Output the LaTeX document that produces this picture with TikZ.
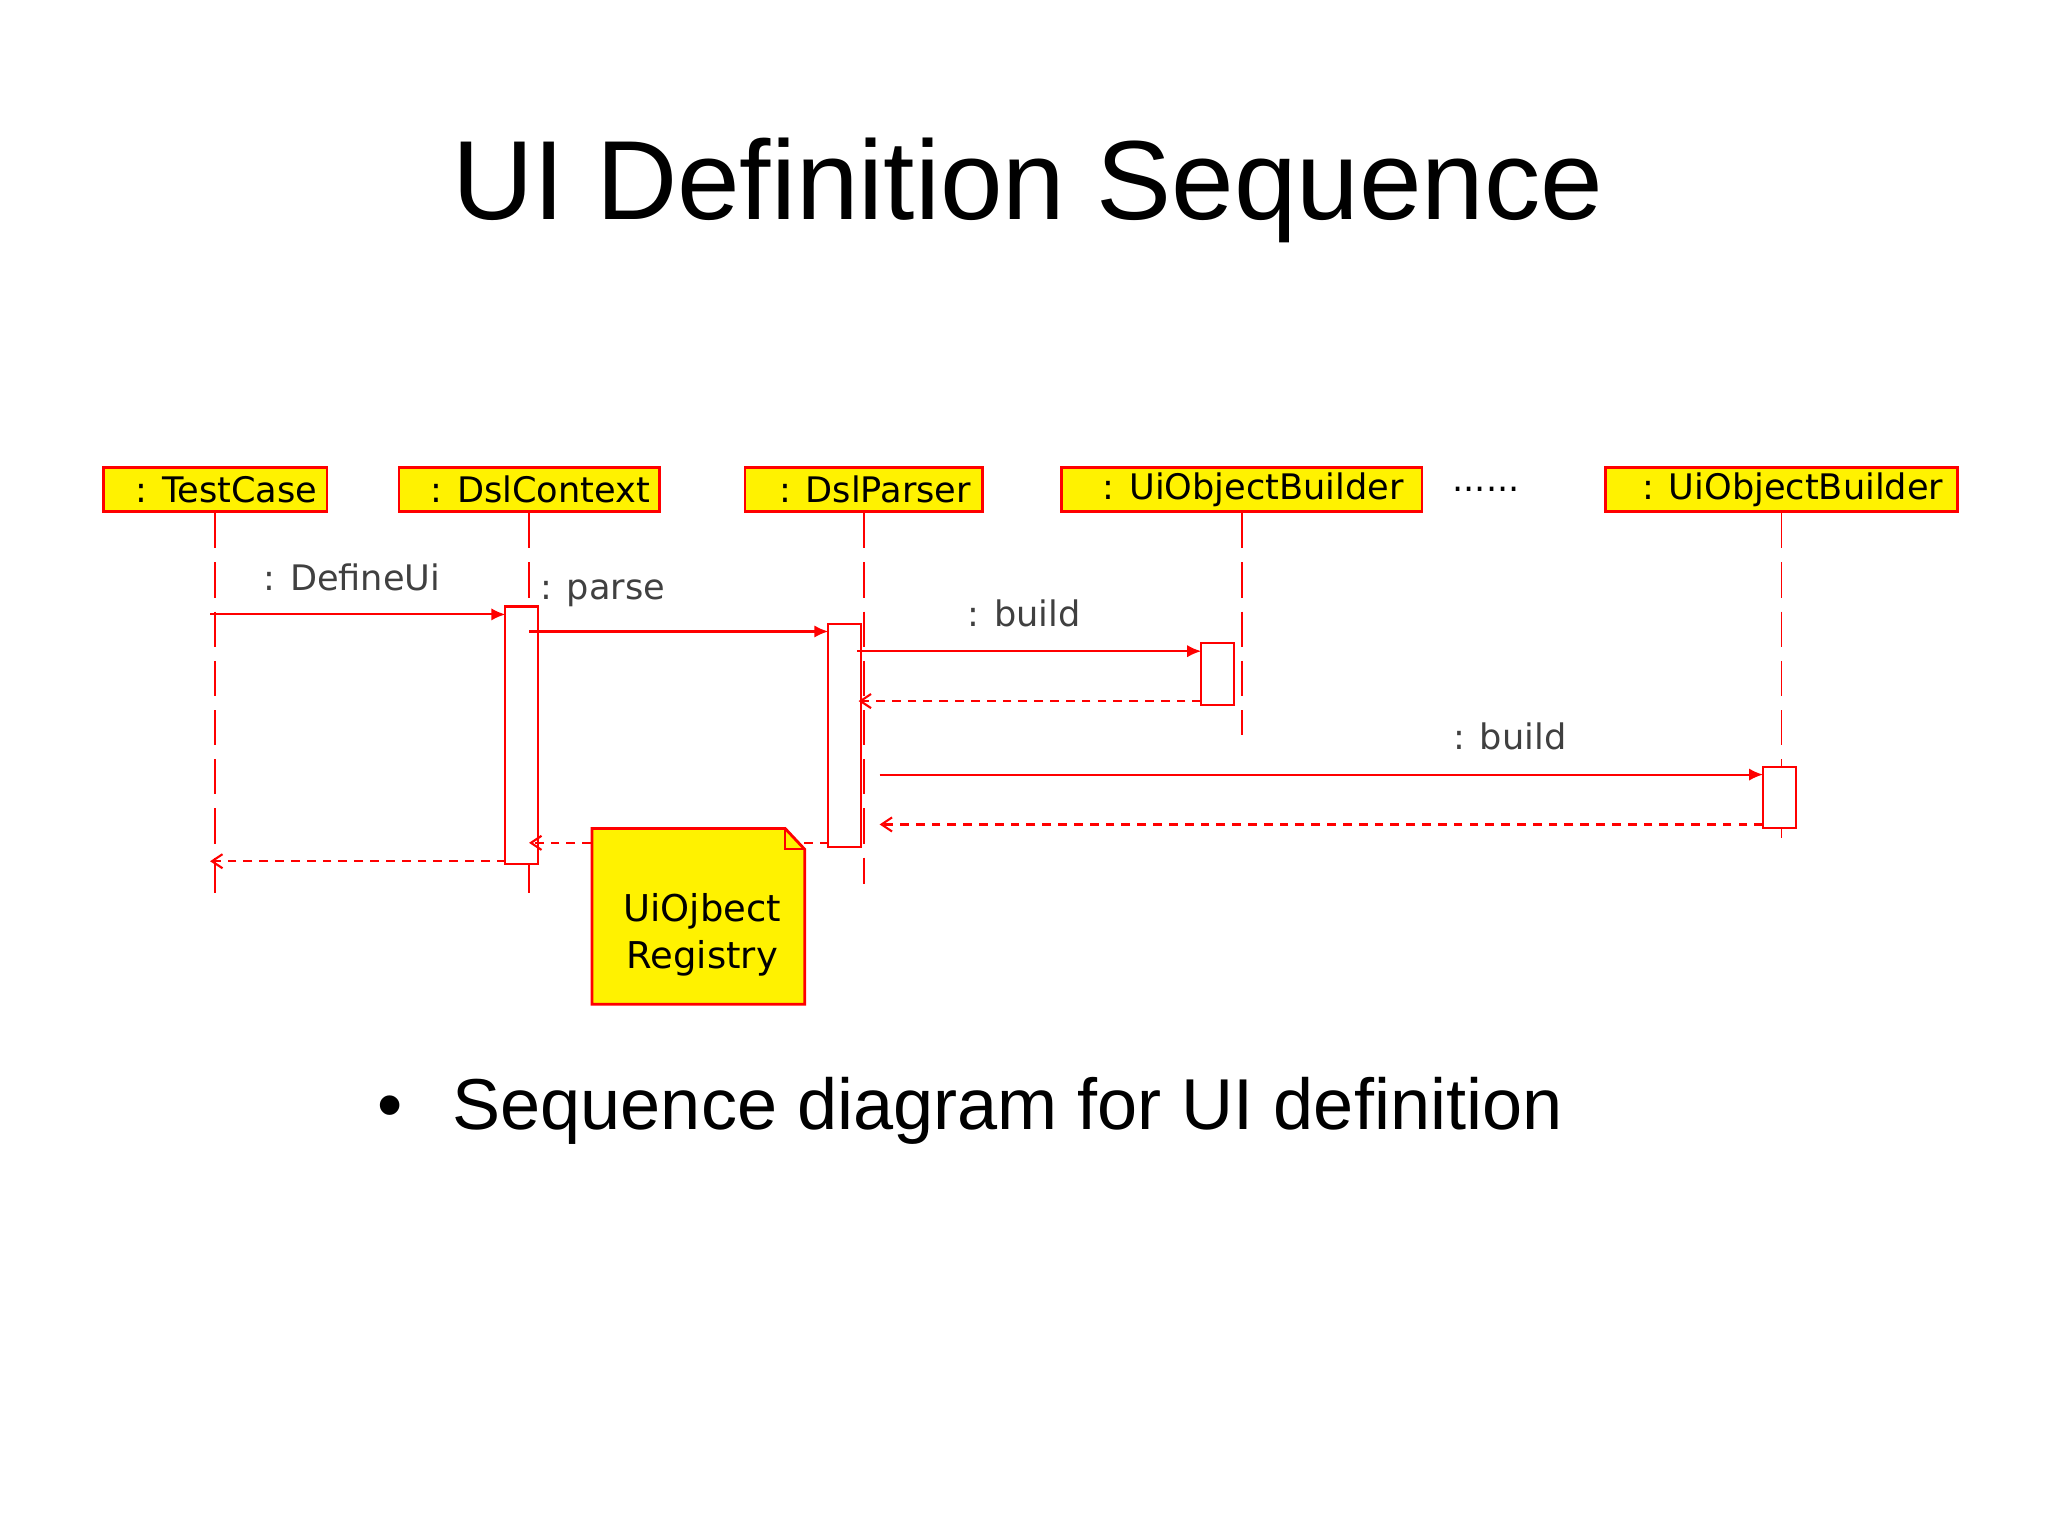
\documentclass[tikz,border=0pt]{standalone}
\usepackage{fontspec}
\setmainfont{Liberation Sans}
\newfontfamily\umlfont{DejaVu Sans}
\usetikzlibrary{arrows.meta,shapes.misc}

\begin{document}
\begin{tikzpicture}[x=0.013128cm,y=-0.013128cm,
  head/.style={draw=red,fill=yellow,line width=0.8pt,minimum height=0.44cm,inner sep=0pt,font=\umlfont\fontsize{10}{12}\selectfont},
  life/.style={red,dash pattern=on 10pt off 4pt,line width=0.5pt},
  act/.style={draw=red,fill=white,line width=0.6pt},
  msg/.style={red,line width=0.6pt,-{Latex[length=4pt,width=3.5pt]}},
  ret/.style={red,line width=0.6pt,dash pattern=on 2.5pt off 2pt,-{Straight Barb[length=3pt,width=4pt]}},
  lbl/.style={font=\umlfont\fontsize{10}{12}\selectfont,text=black!75}]
\useasboundingbox (0,0) rectangle (1560,1169);
\node at (783,145) {\fontsize{32}{36}\selectfont UI Definition Sequence};
\node[anchor=west] (bul) at (278,846) {\fontsize{20.5}{24}\selectfont \textbullet\hspace{0.5cm}Sequence diagram for UI definition};

% heads
\node[head,minimum width=2.232cm] (tc) at (164,373) {\ \ : TestCase};
\node[head,minimum width=2.6cm] (dc) at (403,373) {\ \ : DslContext};
\node[head,minimum width=2.376cm] (dp) at (658,373) {\ \ : DslParser};
\node[head,minimum width=3.6cm] (ub) at (946,373) {\ \ : UiObjectBuilder};
\node[lbl,text=black] (dots) at (1132,373) {......};
\node[head,minimum width=3.52cm] (ubb) at (1357,373) {\ \ : UiObjectBuilder};

% lifelines
\coordinate (tcE) at (164,690);
\coordinate (dcE) at (403,690);
\coordinate (dpE) at (658,673);
\coordinate (ubE) at (946,560);
\coordinate (ubbE) at (1357,638);
\foreach \h in {tc,dc,dp,ub,ubb}
  \draw[life] (\h.south) -- (\h E);

% activations
\draw[act] (385,462) rectangle (410,658);
\draw[act] (631,475) rectangle (656,645);
\draw[act] (915,490) rectangle (940,537);
\draw[act] (1343,584) rectangle (1368,631);

% messages
\coordinate (m1a) at (160,468); \coordinate (m1b) at (385,468);
\coordinate (m2a) at (403,481); \coordinate (m2b) at (631,481);
\coordinate (m3a) at (653,496); \coordinate (m3b) at (915,496);
\coordinate (r3a) at (915,534); \coordinate (r3b) at (654,534);
\coordinate (m4a) at (670,590); \coordinate (m4b) at (1343,590);
\coordinate (r4a) at (1343,628); \coordinate (r4b) at (670,628);
\coordinate (r2a) at (631,642); \coordinate (r2b) at (403,642);
\coordinate (r1a) at (385,656); \coordinate (r1b) at (160,656);
\draw[msg] (m1a) -- (m1b);
\draw[msg] (m2a) -- (m2b);
\draw[msg] (m3a) -- (m3b);
\draw[msg] (m4a) -- (m4b);
\draw[ret] (r3a) -- (r3b);
\draw[ret] (r4a) -- (r4b);
\draw[ret] (r2a) -- (r2b);
\draw[ret] (r1a) -- (r1b);
\node[lbl] (l1) at (268,440) {: DefineUi};
\node[lbl,anchor=west] (l2) at (402,452) {: parse};
\node[lbl] (l3) at (780,467) {: build};
\node[lbl] (l4) at (1150,561) {: build};

% note
\filldraw[draw=red,fill=yellow,line width=0.8pt] (451,631) -- (598,631) -- (613,647) -- (613,765) -- (451,765) -- cycle;
\draw[red,line width=0.6pt] (598,631) -- (598,647) -- (613,647);
\node[font=\umlfont\fontsize{10.5}{13.5}\selectfont,align=center] (reg) at (535,712) {UiOjbect\\Registry};
\end{tikzpicture}
\end{document}
